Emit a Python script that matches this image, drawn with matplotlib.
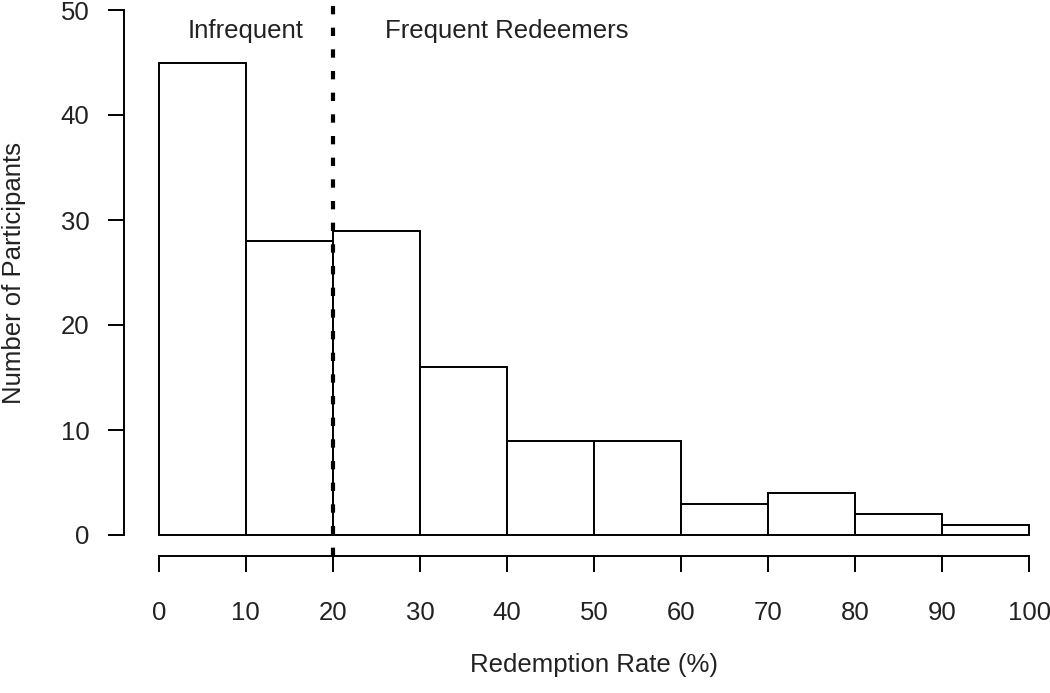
import matplotlib.pyplot as plt

# données
bin_edges = [0, 10, 20, 30, 40, 50, 60, 70, 80, 90, 100]
counts = [45, 28, 29, 16, 9, 9, 3, 4, 2, 1]
x_ticks = [0, 10, 20, 30, 40, 50, 60, 70, 80, 90, 100]
y_ticks = [0, 10, 20, 30, 40, 50]
cutoff = 20

plt.rcParams['font.family'] = ['Liberation Sans', 'DejaVu Sans']
txt_col = '#222222'

fig = plt.figure(figsize=(10.5, 6.93), dpi=100)
# zone de tracé à la manière de R (étendue de 4 %), rognée par la figure
ax = fig.add_axes([124 / 1050, 137 / 693, 940 / 1050, 567 / 693])
ax.set_xlim(-4, 104)
ax.set_ylim(-2, 52)

ax.bar(bin_edges[:-1], counts, width=10, align='edge', color='white',
       edgecolor='black', linewidth=1.4)

ax.axvline(cutoff, color='black', linewidth=3, dashes=(2.0, 3.2))

ax.text(10, 48, "Infrequent", ha='center', va='center', fontsize=18.5, color=txt_col)
ax.text(40, 48, "Frequent Redeemers", ha='center', va='center', fontsize=18.5, color=txt_col)

for s in ['top', 'right']:
    ax.spines[s].set_visible(False)
ax.spines['left'].set_bounds(0, 50)
ax.spines['bottom'].set_bounds(0, 100)
ax.spines['left'].set_linewidth(1.4)
ax.spines['bottom'].set_linewidth(1.4)

ax.set_xticks(x_ticks)
ax.set_yticks(y_ticks)
ax.tick_params(axis='both', length=11.5, width=1.4, labelsize=18.5, labelcolor=txt_col)
ax.tick_params(axis='x', pad=21)
ax.tick_params(axis='y', pad=13.5)

ax.set_xlabel("Redemption Rate (%)", fontsize=18.5, labelpad=20, color=txt_col)
ax.set_ylabel("Number of Participants", fontsize=18.5, labelpad=25, color=txt_col)

fig.savefig("out.png", dpi=100)
